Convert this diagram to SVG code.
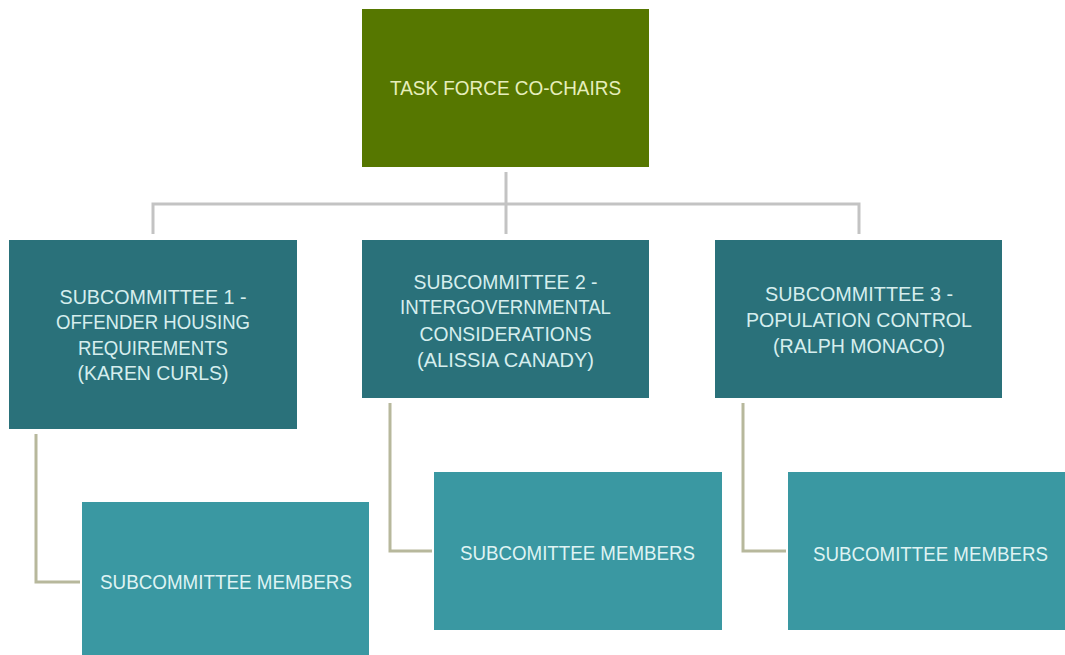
<svg xmlns="http://www.w3.org/2000/svg" width="1065" height="655" viewBox="0 0 1065 655">
<style>
.top{fill:#567700}
.sub{fill:#2a717a}
.mem{fill:#3a98a2}
text{font-family:"Liberation Sans",Arial,sans-serif;text-anchor:middle}
.t1{fill:#e6eebc;font-size:21px}
.t2{fill:#d6eeee;font-size:21px}
.t3{fill:#dff3f3;font-size:19.5px}
.c1{fill:none;stroke:#c3c3c3;stroke-width:3}
.c2{fill:none;stroke:#b7b89c;stroke-width:3}
</style>
<rect width="1065" height="655" fill="#ffffff"/>
<g id="connectors">
<path class="c1" d="M506,172 V234 M153,234 V204 H859 V234"/>
<path class="c2" d="M36,434 V582 H80"/>
<path class="c2" d="M390,403 V551 H432"/>
<path class="c2" d="M743,403 V551 H786"/>
</g>
<g id="cochairs">
<rect class="top" x="362" y="9" width="287" height="158"/>
<text class="t1" x="505.5" y="94.5" textLength="231" lengthAdjust="spacingAndGlyphs">TASK FORCE CO-CHAIRS</text>
</g>
<g id="sub1">
<rect class="sub" x="9" y="240" width="288" height="189"/>
<text class="t2" x="153" y="303.5" textLength="187" lengthAdjust="spacingAndGlyphs">SUBCOMMITTEE 1 -</text>
<text class="t2" x="153" y="329" textLength="194" lengthAdjust="spacingAndGlyphs">OFFENDER HOUSING</text>
<text class="t2" x="153" y="354.5" textLength="150" lengthAdjust="spacingAndGlyphs">REQUIREMENTS</text>
<text class="t2" x="153" y="380" textLength="151" lengthAdjust="spacingAndGlyphs">(KAREN CURLS)</text>
</g>
<g id="sub2">
<rect class="sub" x="362" y="240" width="287" height="158"/>
<text class="t2" x="505.5" y="288.5" textLength="184" lengthAdjust="spacingAndGlyphs">SUBCOMMITTEE 2 -</text>
<text class="t2" x="505.5" y="314" textLength="211" lengthAdjust="spacingAndGlyphs">INTERGOVERNMENTAL</text>
<text class="t2" x="505.5" y="340.5" textLength="172" lengthAdjust="spacingAndGlyphs">CONSIDERATIONS</text>
<text class="t2" x="505.5" y="366.5" textLength="177" lengthAdjust="spacingAndGlyphs">(ALISSIA CANADY)</text>
</g>
<g id="sub3">
<rect class="sub" x="715" y="240" width="287" height="158"/>
<text class="t2" x="859" y="301" textLength="188" lengthAdjust="spacingAndGlyphs">SUBCOMMITTEE 3 -</text>
<text class="t2" x="859" y="327" textLength="226" lengthAdjust="spacingAndGlyphs">POPULATION CONTROL</text>
<text class="t2" x="859" y="353" textLength="172" lengthAdjust="spacingAndGlyphs">(RALPH MONACO)</text>
</g>
<g id="members1">
<rect class="mem" x="82" y="502" width="287" height="160"/>
<text class="t3" x="226" y="588.5" textLength="252" lengthAdjust="spacingAndGlyphs">SUBCOMMITTEE MEMBERS</text>
</g>
<g id="members2">
<rect class="mem" x="434" y="472" width="288" height="158"/>
<text class="t3" x="577.5" y="559.5" textLength="235" lengthAdjust="spacingAndGlyphs">SUBCOMITTEE MEMBERS</text>
</g>
<g id="members3">
<rect class="mem" x="788" y="472" width="287" height="158"/>
<text class="t3" x="930.5" y="560.5" textLength="235" lengthAdjust="spacingAndGlyphs">SUBCOMITTEE MEMBERS</text>
</g>
</svg>
